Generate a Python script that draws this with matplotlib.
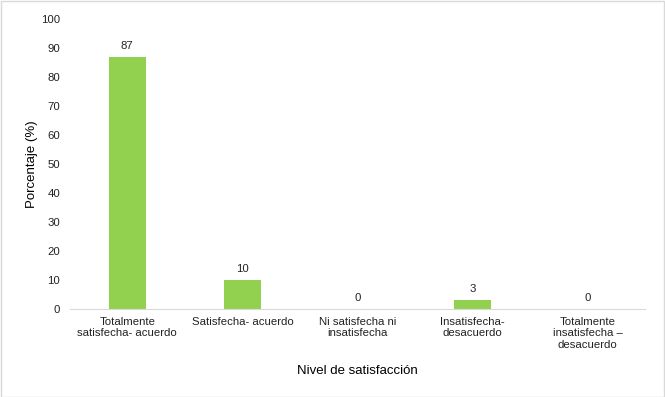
import matplotlib.pyplot as plt
import numpy as np

plt.rcParams['font.family'] = ['Liberation Sans', 'DejaVu Sans']

categorias = ["Totalmente\nsatisfecha- acuerdo", "Satisfecha- acuerdo",
              "Ni satisfecha ni\ninsatisfecha", "Insatisfecha-\ndesacuerdo",
              "Totalmente\ninsatisfecha \u2013\ndesacuerdo"]
porcentaje = [87, 10, 0, 3, 0]
yticks = np.arange(0, 101, 10)

fig = plt.figure(figsize=(6.65, 3.97), dpi=100)
ax = fig.add_axes([0.105, 0.222, 0.865, 0.730])

x = np.arange(len(categorias))
bars = ax.bar(x, porcentaje, width=0.32, color="#92D050")
for xi, v in zip(x, porcentaje):
    ax.text(xi, v + 2, "%d" % v, ha="center", va="bottom", fontsize=8.2, color="#222222")

ax.set_xlim(-0.5, len(categorias) - 0.5)
ax.set_ylim(0, 100)
ax.set_yticks(yticks)
ax.set_xticks(x)
ax.set_xticklabels(categorias, fontsize=8.2, color="#222222", linespacing=1.15)
ax.tick_params(axis="y", labelsize=8.2, length=0, pad=7, labelcolor="#222222")
ax.tick_params(axis="x", length=0, pad=6)
for s in ["top", "right", "left"]:
    ax.spines[s].set_visible(False)
ax.spines["bottom"].set_color("#D9D9D9")

ax.set_xlabel("Nivel de satisfacci\u00f3n", fontsize=9.5, labelpad=11)
ax.set_ylabel("Porcentaje (%)", fontsize=9.5, labelpad=2)

fig.patches.append(plt.Rectangle((0.001, 0.001), 0.997, 0.996, transform=fig.transFigure,
                                 fill=False, edgecolor="#D9D9D9", linewidth=1))

fig.savefig("out.png", dpi=100)
